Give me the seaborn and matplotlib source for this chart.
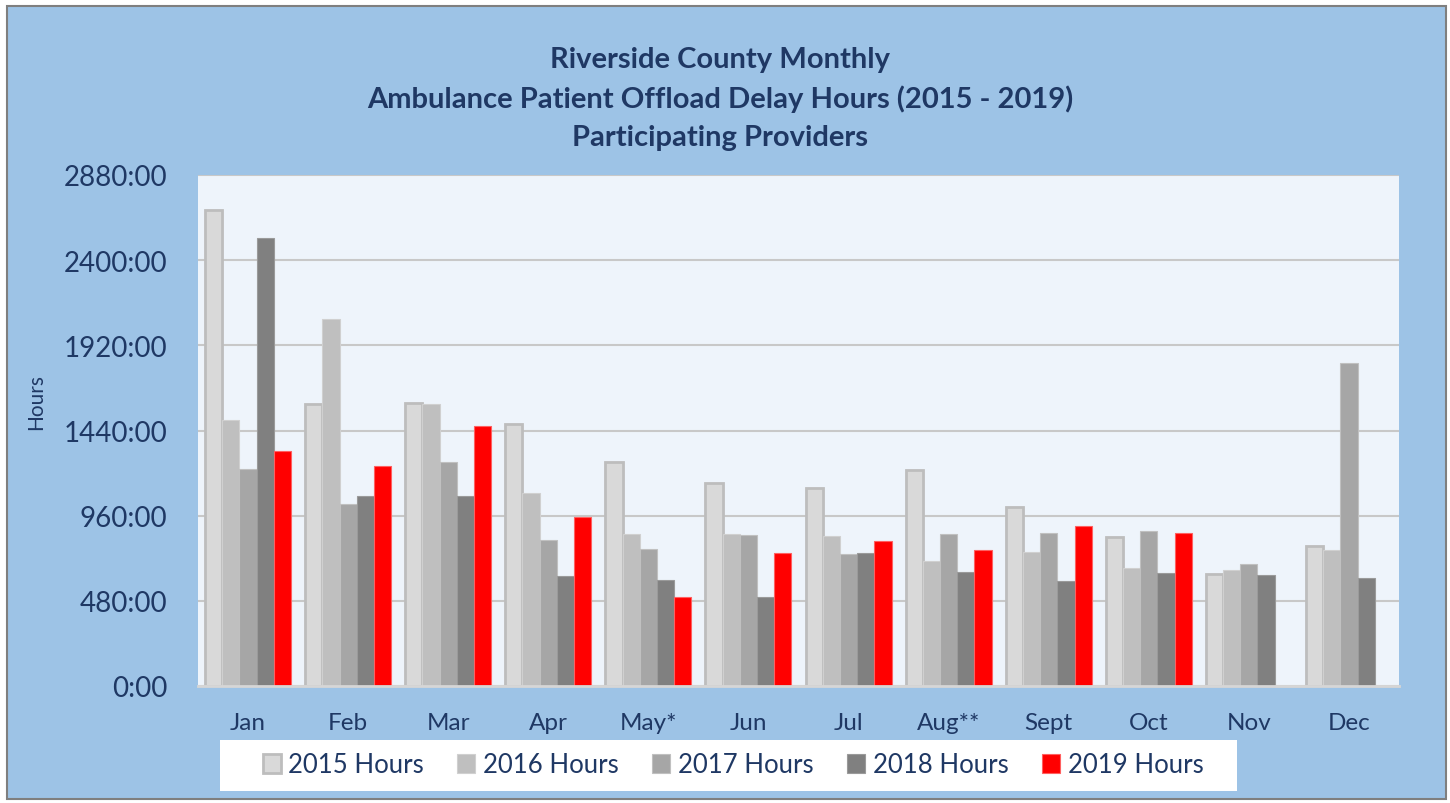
import numpy as np
import pandas as pd
import seaborn as sns
import matplotlib.pyplot as plt
from matplotlib.patches import Rectangle

months = ["Jan", "Feb", "Mar", "Apr", "May*", "Jun", "Jul", "Aug**", "Sept", "Oct", "Nov", "Dec"]
years = ["2015 Hours", "2016 Hours", "2017 Hours", "2018 Hours", "2019 Hours"]

hours_2015 = [2681, 1592, 1597, 1478, 1260, 1144, 1114, 1217, 1007, 842, 632, 791]
hours_2016 = [1498, 2069, 1588, 1088, 859, 859, 844, 707, 758, 664, 651, 767]
hours_2017 = [1225, 1023, 1263, 821, 773, 851, 743, 859, 864, 874, 686, 1819]
hours_2018 = [2525, 1069, 1069, 620, 600, 499, 752, 641, 591, 636, 623, 608]
hours_2019 = [1322, 1240, 1464, 951, 499, 752, 816, 765, 902, 861, np.nan, np.nan]

yticks = [0, 480, 960, 1440, 1920, 2400, 2880]
title_lines = ["Riverside County Monthly",
               "Ambulance Patient Offload Delay Hours (2015 - 2019)",
               "Participating Providers"]

fills = ["#D9D9D9", "#BFBFBF", "#A6A6A6", "#808080", "#FF0000"]
edges = ["#BDBDBD", "#D0D0D0", "#C0C0C0", "#9A9A9A", "#FF6060"]
navy = "#1F3864"

series = [hours_2015, hours_2016, hours_2017, hours_2018, hours_2019]
df = pd.DataFrame({
    "Month": months * len(years),
    "Year": [y for y in years for _ in months],
    "Hours": [v for s in series for v in s],
})

plt.rcParams["font.family"] = ["Lato", "DejaVu Sans"]

fig = plt.figure(figsize=(14.5, 8.04), dpi=100)
fig.patch.set_facecolor("white")
# outer blue chart area with grey border
fig.patches.append(Rectangle((7 / 1450, 4 / 804), 1439 / 1450, 793 / 804,
                             transform=fig.transFigure, facecolor="#9DC3E6",
                             edgecolor="#7F7F7F", linewidth=1.5, zorder=-10))
# white legend box
fig.patches.append(Rectangle((220 / 1450, 1 - 792 / 804), 1017 / 1450, 51 / 804,
                             transform=fig.transFigure, facecolor="white",
                             edgecolor="none", zorder=-5))

ax = fig.add_axes([198 / 1450, 1 - 687 / 804, 1201 / 1450, 511 / 804])
ax.set_facecolor("#EEF4FB")

sns.barplot(data=df, x="Month", y="Hours", hue="Year", order=months, hue_order=years,
            palette=dict(zip(years, fills)), saturation=1, width=0.86, gap=0,
            errorbar=None, ax=ax)

for cont, ec in zip(ax.containers, edges):
    for bar in cont:
        bar.set_edgecolor(ec)
        bar.set_linewidth(2.0 if ec == edges[0] else 0.8)

ax.set_ylim(0, 2880)
ax.set_yticks(yticks)
ax.set_yticklabels([f"{v}:00" for v in yticks])
ax.yaxis.grid(True, color="#C8C8C8", linewidth=1.5)
ax.set_axisbelow(True)
for s in ["top", "right", "left"]:
    ax.spines[s].set_visible(False)
ax.spines["bottom"].set_color("#D6D6D6")
ax.spines["bottom"].set_linewidth(2)
ax.tick_params(axis="y", length=0, pad=22, labelsize=20, labelcolor=navy)
ax.tick_params(axis="x", length=0, pad=19, labelsize=17.5, labelcolor=navy)
ax.set_xlabel("")
ax.set_ylabel("")

fig.text(36 / 1450, 1 - 402 / 804, "Hours", rotation=90, ha="center", va="center",
         fontsize=15, color=navy)

for i, line in enumerate(title_lines):
    fig.text(720 / 1450, 1 - (60 + 39 * i) / 804, line, ha="center", va="center",
             fontsize=21, fontweight="bold", color=navy)

handles, labels = ax.get_legend_handles_labels()
ax.get_legend().remove()
for h, ec in zip(handles, edges):
    h.set_edgecolor(ec)
    h.set_linewidth(2.0 if ec == edges[0] else 0.8)
leg = fig.legend(handles, labels, loc="center", bbox_to_anchor=(733 / 1450, 1 - 766 / 804),
                 ncol=5, frameon=False, fontsize=18.5,
                 handlelength=0.7, handleheight=0.8, handletextpad=0.3, columnspacing=1.3,
                 borderpad=0, borderaxespad=0)
for t in leg.get_texts():
    t.set_color(navy)

fig.savefig("out.png", dpi=100)
